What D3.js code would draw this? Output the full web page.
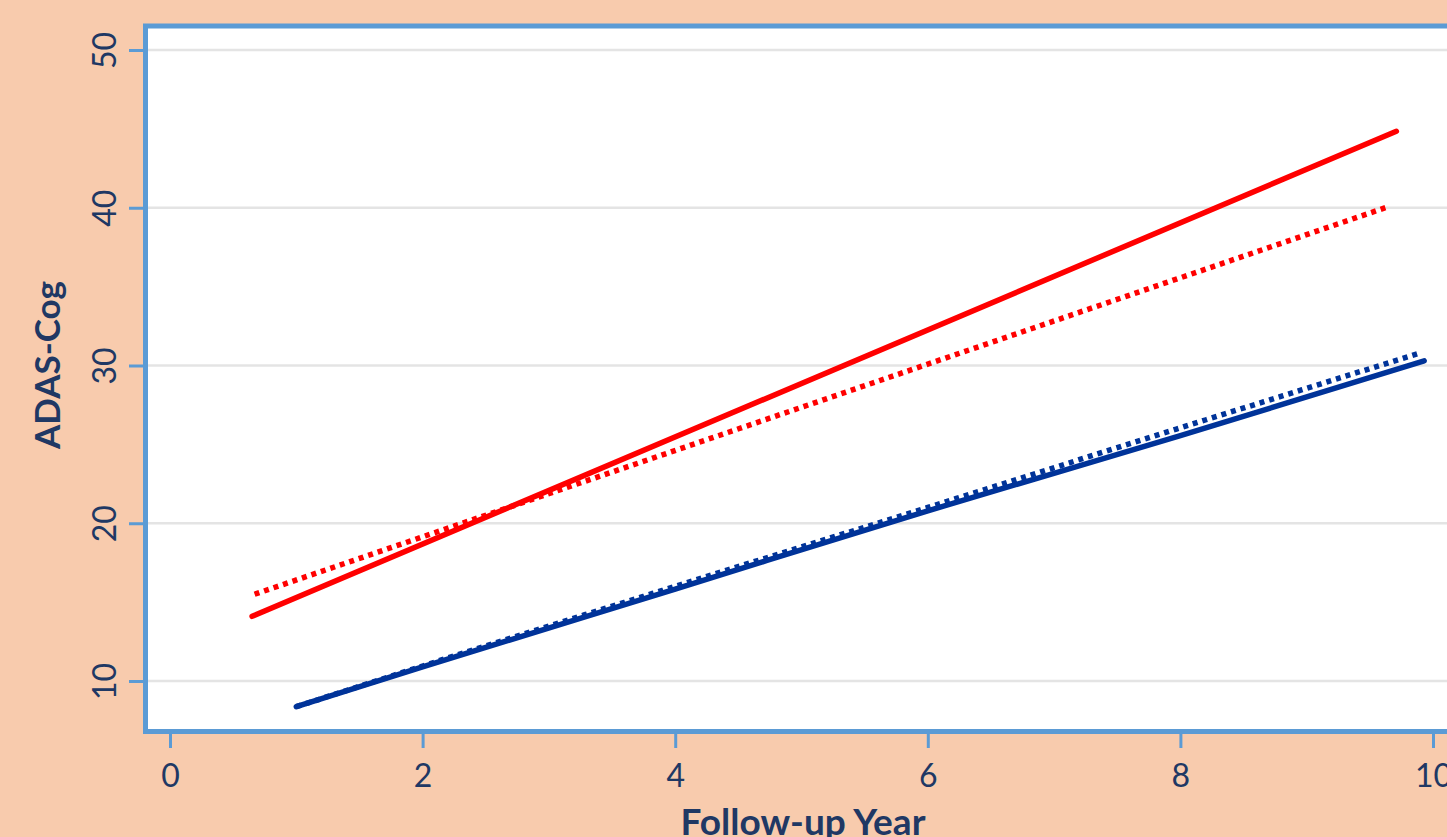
<!DOCTYPE html>
<html><head><meta charset="utf-8">
<script src="https://cdn.jsdelivr.net/npm/d3@7/dist/d3.min.js"></script>
<style>html,body{margin:0;padding:0;background:#F8CBAD;overflow:hidden}</style>
</head><body>
<svg id="c" width="1447" height="837"></svg>
<script>
const xTicks = [0, 2, 4, 6, 8, 10];
const yTicks = [10, 20, 30, 40, 50];
const redSolidX = [0.65, 9.71];
const redSolidY = [14.1, 44.85];
const redDotX = [0.67, 9.64];
const redDotY = [15.5, 40.05];
const blueSolidX = [1.0, 2, 4, 6, 8, 9.93];
const blueSolidY = [8.37, 10.89, 15.83, 20.79, 25.55, 30.3];
const blueDotX = [1.0, 2, 4, 6, 8, 9.9];
const blueDotY = [8.37, 10.95, 16.0, 21.0, 26.05, 30.8];
const xTitle = "Follow-up Year";
const yTitle = "ADAS-Cog";

const svg = d3.select("#c");
const x = d3.scaleLinear().domain([0, 10]).range([170, 1433]);
const y = d3.scaleLinear().domain([10, 50]).range([681, 50]);
const axisCol = "#5B9BD5", textCol = "#203864";
const font = "Lato, 'Open Sans', sans-serif";

svg.append("rect").attr("width", 1447).attr("height", 837).attr("fill", "#F8CBAD");
svg.append("rect").attr("x", 145.5).attr("y", 26).attr("width", 1400).attr("height", 705.5)
  .attr("fill", "#fff").attr("stroke", axisCol).attr("stroke-width", 5);

// gridlines
svg.append("g").selectAll("line").data(yTicks).join("line")
  .attr("x1", 148).attr("x2", 1447).attr("y1", d => y(d)).attr("y2", d => y(d))
  .attr("stroke", "#E4E4E4").attr("stroke-width", 2.5);

// x axis
const gx = svg.append("g").attr("transform", "translate(0,734)")
  .call(d3.axisBottom(x).tickValues(xTicks).tickSize(14).tickPadding(16).tickFormat(d3.format("d")));
gx.select(".domain").remove();
gx.selectAll("line").attr("stroke", axisCol).attr("stroke-width", 3);
gx.selectAll("text").attr("fill", textCol).attr("font-family", font).attr("font-size", 32);

// y axis
const gy = svg.append("g").attr("transform", "translate(143,0)")
  .call(d3.axisLeft(y).tickValues(yTicks).tickSize(14).tickFormat(d3.format("d")));
gy.select(".domain").remove();
gy.selectAll("line").attr("stroke", axisCol).attr("stroke-width", 3);
gy.selectAll("text").attr("fill", textCol).attr("font-family", font).attr("font-size", 32)
  .attr("x", null).attr("dy", null)
  .attr("text-anchor", "middle")
  .attr("transform", "translate(-27,0) rotate(-90)");

// titles
svg.append("text").attr("x", 803).attr("y", 835).attr("text-anchor", "middle")
  .attr("fill", textCol).attr("font-family", font).attr("font-weight", "bold").attr("font-size", 37)
  .text(xTitle);
svg.append("text").attr("transform", "translate(60,365) rotate(-90)").attr("text-anchor", "middle")
  .attr("fill", textCol).attr("font-family", font).attr("font-weight", "bold").attr("font-size", 35)
  .text(yTitle);

const line = d3.line().x(d => x(d[0])).y(d => y(d[1])).curve(d3.curveMonotoneX);
function draw(xs, ys, color, dotted) {
  const pts = xs.map((v, i) => [v, ys[i]]);
  svg.append("path").datum(pts).attr("d", line).attr("fill", "none")
    .attr("stroke", color).attr("stroke-width", 5.5)
    .attr("stroke-linecap", dotted ? "butt" : "round")
    .attr("stroke-dasharray", dotted ? "5,5" : null);
}
draw(redDotX, redDotY, "#FF0000", true);
draw(redSolidX, redSolidY, "#FF0000", false);
draw(blueDotX, blueDotY, "#003399", true);
draw(blueSolidX, blueSolidY, "#003399", false);
</script>
</body></html>
